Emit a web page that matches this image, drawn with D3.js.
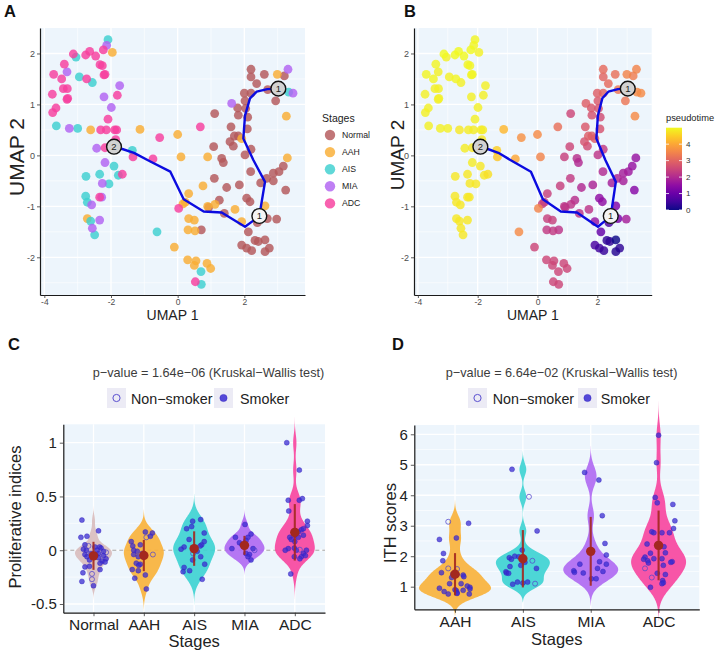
<!DOCTYPE html>
<html><head><meta charset="utf-8">
<script src="https://cdn.jsdelivr.net/npm/d3@7/dist/d3.min.js"></script>
<style>
html,body{margin:0;padding:0;background:#fff;}
svg text{font-family:'Liberation Sans',Arial,Helvetica,sans-serif;}
</style></head>
<body><svg id="fig" width="720" height="658"></svg>
<script>
// ---------------- DATA ----------------
const stages = ["Normal","AAH","AIS","MIA","ADC"];
const stageColors = ["#B3585A","#F9AD33","#3DCFD0","#B163F1","#F63E9E"];

// UMAP points per stage: [umap1, umap2, pseudotime]
const umapNormal = [[0.71,-1.46,2.2],[0.93,-1.02,2.2],[1.25,-0.88,2.1],[1.40,-1.14,2.2],[1.47,-0.63,2.0],[1.10,-0.45,2.3],[1.85,-0.58,1.9],[2.07,-0.84,1.5],[2.17,-0.91,1.5],[2.39,-1.32,0.6],[2.69,-1.24,1.2],[2.97,-1.25,1.8],[2.12,-1.50,0.9],[1.92,-1.76,0.6],[2.07,-1.82,0.5],[2.22,-1.87,0.4],[2.32,-1.67,0.3],[2.42,-1.69,0.3],[2.62,-1.66,0.0],[2.75,-1.82,0.3],[2.62,-1.89,0.2],[2.49,-0.54,1.8],[2.87,-0.50,1.8],[3.24,-0.68,1.4],[2.19,-0.32,2.0],[3.17,-0.21,1.6],[3.04,-0.32,1.7],[2.87,-0.35,1.8],[2.67,-0.45,1.9],[1.08,0.17,2.5],[1.32,-0.06,2.1],[1.37,-0.14,2.0],[2.02,0.01,2.2],[2.20,0.12,2.3],[1.67,0.18,2.6],[1.57,0.27,2.7],[1.70,0.38,2.9],[1.82,0.38,2.9],[1.60,0.56,2.8],[2.09,0.52,2.7],[1.11,0.82,2.5],[1.82,0.79,2.7],[2.10,0.75,2.6],[1.80,0.93,2.8],[2.04,0.92,2.7],[2.02,1.07,2.8],[2.94,1.07,3.3],[2.00,1.22,2.9],[2.20,1.22,3.0],[2.37,1.41,3.1],[2.70,1.29,3.3],[2.20,1.54,3.0],[2.20,1.69,3.1],[2.60,1.59,3.2],[3.20,1.56,3.4]];
const umapAAH = [[-1.96,2.02,4.9],[-2.61,0.50,4.8],[-2.71,-1.24,4.8],[-1.13,0.51,4.2],[0.00,0.41,3.6],[0.10,-0.03,3.5],[0.33,-0.75,2.4],[0.16,-0.95,2.4],[0.23,-0.92,2.4],[0.33,-1.24,2.4],[0.50,-1.27,2.4],[0.31,-1.46,2.3],[0.52,-1.48,2.3],[-0.10,-1.80,2.5],[0.30,-2.05,2.5],[0.55,-2.07,2.5],[0.50,-2.16,2.5],[0.88,-2.12,2.5],[0.99,-2.22,2.5],[0.76,-0.60,2.4],[0.90,-1.00,2.2],[1.12,-0.96,2.2],[1.72,-1.06,2.2],[1.92,-1.30,1.6],[2.62,-0.99,1.3],[3.29,-0.05,1.6],[1.92,0.33,2.9],[0.90,-0.03,2.4],[2.99,1.59,3.5],[3.26,0.77,3.6]];
const umapAIS = [[-2.09,2.27,4.95],[-3.05,1.93,4.9],[-2.95,1.54,4.9],[-2.56,1.43,4.9],[-3.64,0.58,4.9],[-3.00,0.53,4.9],[-1.91,-0.21,4.8],[-2.75,-0.41,4.8],[-2.34,-0.37,4.8],[-1.78,-0.39,4.8],[-2.06,-0.56,4.8],[-2.76,-0.80,4.8],[-2.71,-0.92,4.8],[-2.61,-1.29,4.8],[-2.49,-1.56,4.8],[-1.36,0.10,4.5],[-0.62,-1.50,3.6],[0.70,-2.28,2.5],[0.71,-2.53,2.5],[3.33,1.24,3.6]];
const umapMIA = [[-2.13,2.16,4.95],[-3.32,1.64,4.9],[-1.74,1.37,4.9],[-2.21,1.15,4.9],[-1.99,0.94,4.9],[-3.25,0.53,4.9],[-2.43,0.14,4.85],[-2.18,-0.14,4.85],[-2.26,-0.55,4.8],[-2.28,-0.82,4.8],[-2.58,-0.97,4.8],[-2.34,-1.27,4.8],[-2.56,-1.43,4.8],[1.62,1.02,2.9],[3.31,1.69,3.5],[3.46,1.22,3.6]];
const umapADC = [[-2.23,2.07,5.0],[-3.13,1.99,5.0],[-2.64,2.04,5.0],[-2.76,1.97,5.0],[-2.46,1.95,5.0],[-3.40,1.79,4.95],[-2.33,1.78,4.95],[-2.26,1.76,4.95],[-3.72,1.59,4.95],[-3.48,1.50,4.95],[-2.73,1.50,4.95],[-2.21,1.58,4.95],[-2.18,1.59,4.95],[-3.43,1.31,4.9],[-3.31,1.31,4.9],[-3.32,1.10,4.9],[-3.30,1.12,4.9],[-3.76,1.20,4.9],[-3.65,0.93,4.9],[-3.75,0.84,4.9],[-1.81,1.18,4.9],[-2.09,0.71,4.9],[-2.31,0.50,4.85],[-2.14,0.50,4.85],[-1.89,0.50,4.85],[-1.83,0.50,4.85],[-1.86,0.31,4.8],[-2.18,0.15,4.8],[-1.66,-0.37,4.7],[-2.34,-0.82,4.8],[-0.54,0.35,3.7],[0.68,0.56,3.2],[-1.34,-0.03,4.4],[-0.74,-0.07,4.0],[0.03,-1.04,3.5],[0.53,-2.48,2.5]];

// trajectory (principal graph) and its nodes
const trajX = [-1.91,-1.73,-1.31,-0.82,-0.22,0.18,0.78,1.32,2.02,2.27,2.45,2.62,2.27,1.97,2.02,2.17,2.37,2.69,3.02];
const trajY = [0.17,0.14,0.05,-0.12,-0.32,-0.86,-1.10,-1.12,-1.40,-1.28,-1.19,-0.52,-0.09,0.33,0.78,1.12,1.25,1.30,1.31];
const nodeX = [3.02,2.45,-1.91];
const nodeY = [1.31,-1.19,0.17];
const nodeLabel = ["1","1","2"];

const umapXTicks = [-4,-2,0,2];
const umapYTicks = [-2,-1,0,1,2];
const pseudoTicks = [0,1,2,3,4];

// Panel C: proliferative indices per stage: [value, jitter offset, smoker(1)/non-smoker(0)]
const propNormal = [[0.28,-0.23,1],[0.12,-0.25,1],[0.13,-0.13,1],[0.18,0.10,1],[0.05,-0.17,1],[0.04,-0.10,0],[0.03,0.03,1],[0.03,0.12,1],[0.02,0.15,1],[0.01,-0.20,1],[0.00,-0.14,1],[0.00,0.07,1],[-0.01,0.20,1],[-0.02,0.25,0],[-0.03,-0.05,1],[-0.03,0.10,1],[-0.04,-0.17,1],[-0.05,0.05,1],[-0.05,0.20,1],[-0.06,-0.13,1],[-0.07,0.10,1],[-0.08,0.25,1],[-0.09,-0.08,1],[-0.10,0.17,1],[-0.11,0.23,1],[-0.12,0.13,1],[-0.155,-0.17,1],[-0.15,-0.08,1],[-0.18,0.13,1],[-0.21,-0.21,1],[-0.22,-0.03,0],[-0.27,-0.03,0],[-0.29,-0.23,1],[-0.33,0.00,1]];
const propAAH = [[0.08,-0.25,1],[0.04,-0.22,1],[0.17,0.03,1],[0.16,0.17,1],[0.12,0.05,0],[0.13,0.13,1],[0.05,-0.07,1],[0.00,-0.20,1],[-0.01,-0.13,1],[-0.03,-0.03,1],[-0.04,-0.20,1],[-0.06,-0.11,1],[-0.04,0.18,0],[-0.12,-0.15,1],[-0.13,-0.07,1],[-0.14,-0.10,1],[-0.18,-0.23,1],[-0.19,-0.11,1],[-0.23,0.03,1],[-0.26,-0.18,1],[-0.36,0.05,1]];
const propAIS = [[0.285,0.13,1],[0.27,-0.03,1],[0.16,0.20,1],[0.10,-0.10,1],[0.05,0.15,1],[0.04,0.12,1],[0.03,-0.20,1],[0.01,-0.26,1],[0.20,-0.15,1],[0.22,-0.05,1],[-0.01,0.06,1],[-0.03,-0.02,0],[-0.06,0.13,1],[-0.09,-0.03,1],[-0.13,0.21,1],[-0.16,-0.20,1],[-0.19,-0.09,1],[-0.20,-0.22,1],[-0.27,0.16,1],[0.08,0.20,1]];
const propMIA = [[0.24,0.01,1],[0.15,0.13,1],[0.12,-0.18,1],[0.07,-0.10,1],[0.12,0.07,1],[0.09,0.03,1],[0.05,-0.05,1],[0.03,-0.01,1],[0.015,0.17,1],[-0.03,0.03,1],[-0.04,0.10,1],[-0.06,0.07,1],[-0.09,0.13,1],[0.015,-0.25,1],[0.00,0.20,0]];
const propADC = [[1.00,-0.16,1],[0.745,0.09,1],[0.465,-0.13,1],[0.465,0.09,1],[0.48,0.15,1],[0.27,0.25,1],[0.23,0.25,1],[0.365,-0.12,1],[0.19,0.13,1],[0.20,0.17,1],[0.17,0.07,1],[0.14,0.00,1],[0.12,-0.10,1],[0.12,0.07,1],[0.14,0.17,1],[0.015,-0.13,1],[0.00,-0.19,1],[0.02,-0.01,1],[0.00,0.03,1],[0.005,0.10,0],[-0.03,0.17,1],[0.00,0.23,1],[-0.06,0.13,1],[-0.05,0.21,1],[-0.06,-0.01,1],[-0.08,0.10,1],[-0.22,-0.08,1],[0.08,0.00,1],[0.10,-0.07,1]];
const propYTicks = [-0.5,0,0.5,1];

// Panel D: ITH scores per stage
const ithAAH = [[3.13,-0.10,0],[3.08,0.20,1],[2.60,0.02,1],[2.55,-0.23,1],[2.09,-0.17,1],[1.85,-0.18,1],[1.60,-0.10,0],[1.58,0.03,0],[1.46,-0.20,1],[1.42,-0.03,1],[1.40,0.03,1],[1.38,0.12,1],[1.33,0.13,1],[1.30,-0.05,1],[1.10,0.09,1],[1.02,0.18,1],[0.98,0.22,1],[0.95,-0.23,1],[0.92,0.22,1],[0.90,0.00,1],[0.87,0.02,1],[0.84,-0.16,1],[0.80,0.03,1],[0.78,0.03,1],[0.76,-0.10,1],[0.76,0.21,1],[1.10,-0.08,1],[0.88,0.12,1]];
const ithAIS = [[4.85,-0.16,1],[3.95,0.09,0],[2.83,0.21,1],[2.20,-0.01,1],[2.00,-0.12,1],[1.98,-0.06,1],[1.95,-0.20,1],[1.90,-0.17,1],[1.85,0.14,0],[1.70,-0.03,1],[1.66,-0.19,1],[1.60,0.20,1],[1.49,-0.25,1],[1.45,-0.24,1],[1.44,-0.21,1],[1.15,-0.08,1],[1.15,0.07,1],[1.10,0.18,0],[1.08,-0.15,1],[1.12,0.00,1],[1.80,0.03,1]];
const ithMIA = [[4.75,-0.09,1],[4.50,0.12,1],[3.33,0.17,1],[2.42,0.21,1],[2.04,0.23,1],[1.82,0.13,1],[1.74,-0.16,1],[1.74,0.23,1],[1.52,-0.25,1],[1.47,-0.24,1],[1.45,-0.11,1],[1.50,0.18,1],[1.26,0.01,1],[1.26,0.08,1],[1.60,0.10,1]];
const ithADC = [[5.97,0.00,1],[5.07,-0.03,1],[3.93,-0.05,1],[3.75,-0.02,1],[3.70,0.21,1],[3.16,0.24,1],[2.91,0.22,1],[2.80,-0.10,1],[2.77,-0.07,1],[2.77,0.05,1],[2.77,0.16,1],[2.40,-0.17,1],[2.31,0.08,1],[2.11,0.10,1],[2.10,-0.12,1],[1.97,-0.20,1],[1.90,-0.22,1],[1.92,-0.07,1],[1.92,0.05,1],[1.85,-0.16,1],[1.78,-0.15,1],[1.82,0.20,1],[1.80,0.18,1],[1.70,0.07,1],[1.44,-0.02,1],[1.40,0.10,1],[1.30,-0.10,0],[1.20,0.06,1],[1.13,0.07,1],[1.10,0.05,1],[0.98,-0.12,1],[1.60,-0.20,0]];
const ithYTicks = [1,2,3,4,5,6];

const titleC = "p\u2212value = 1.64e\u221206 (Kruskal\u2212Wallis test)";
const titleD = "p\u2212value = 6.64e\u221202 (Kruskal\u2212Wallis test)";
const smokeLabels = ["Non\u2212smoker","Smoker"];

// ---------------- DRAWING ----------------
const svg = d3.select("#fig");
const PANEL_BG = "#EDF5FC";
const PT_COL = "#3A2CD2";
const MEAN_COL = "#A3281F";

function grid(g, x, y, box, xMaj, xMin, yMaj, yMin) {
  g.append("rect").attr("x", box.l).attr("y", box.t).attr("width", box.r - box.l)
    .attr("height", box.b - box.t).attr("fill", PANEL_BG);
  const add = (vals, vertical, w) => g.append("g").selectAll("line").data(vals).join("line")
    .attr("x1", d => vertical ? x(d) : box.l).attr("x2", d => vertical ? x(d) : box.r)
    .attr("y1", d => vertical ? box.t : y(d)).attr("y2", d => vertical ? box.b : y(d))
    .attr("stroke", "#fff").attr("stroke-width", w);
  add(xMin, true, 0.6); add(yMin, false, 0.6); add(xMaj, true, 1.3); add(yMaj, false, 1.3);
}

function styleAxis(sel, size, color) {
  sel.select(".domain").attr("stroke", "#1a1a1a").attr("stroke-width", 1.2);
  sel.selectAll(".tick line").attr("stroke", "#333").attr("stroke-width", 0.8);
  sel.selectAll(".tick text").attr("font-size", size).attr("fill", color);
}
const hyph = d => String(d).replace("\u2212", "-");

function panelLetter(t, x, y) {
  svg.append("text").attr("x", x).attr("y", y).attr("font-size", 16.5).attr("font-weight", "bold")
    .attr("fill", "#111").text(t);
}

const umapGroups = [umapNormal, umapAAH, umapAIS, umapMIA, umapADC];
const umapAll = [];
umapGroups.forEach((arr, si) => arr.forEach(d => umapAll.push({x: d[0], y: d[1], pt: d[2], s: si})));

const ptMax = d3.max(umapAll, d => d.pt);
const ptColor = d3.scaleSequential(d3.interpolatePlasma).domain([0, ptMax]);

function umapPanel(box, colorOf, yTitle) {
  const g = svg.append("g");
  const x = d3.scaleLinear().domain([-4.13, 3.82]).range([box.l, box.r]);
  const y = d3.scaleLinear().domain([-2.74, 2.5]).range([box.b, box.t]);
  grid(g, x, y, box, umapXTicks, [-3,-1,1,3], umapYTicks, [-2.5,-1.5,-0.5,0.5,1.5]);
  g.append("g").selectAll("circle").data(umapAll).join("circle")
    .attr("cx", d => x(d.x)).attr("cy", d => y(d.y)).attr("r", 4.4)
    .attr("fill", colorOf).attr("fill-opacity", 0.82);
  const line = d3.line().x(i => x(trajX[i])).y(i => y(trajY[i]));
  g.append("path").attr("d", line(d3.range(trajX.length))).attr("fill", "none")
    .attr("stroke", "#0B0BE0").attr("stroke-width", 2.4).attr("stroke-linejoin", "round");
  const nodeFill = ["#D2D2D2", "#F4F4F4", "#D2D2D2"];
  const ng = g.append("g").selectAll("g").data(d3.range(nodeX.length)).join("g")
    .attr("transform", i => `translate(${x(nodeX[i])},${y(nodeY[i])})`);
  ng.append("circle").attr("r", 7.4).attr("fill", (i) => nodeFill[i]).attr("stroke", "#111").attr("stroke-width", 1.4);
  ng.append("text").attr("text-anchor", "middle").attr("dy", "0.36em").attr("font-size", 9.5)
    .attr("fill", "#222").text(i => nodeLabel[i]);
  const ax = g.append("g").attr("transform", `translate(0,${box.b})`)
    .call(d3.axisBottom(x).tickValues(umapXTicks).tickSize(3).tickSizeOuter(0).tickPadding(1).tickFormat(hyph));
  styleAxis(ax, 8.5, "#4d4d4d");
  const ay = g.append("g").attr("transform", `translate(${box.l},0)`)
    .call(d3.axisLeft(y).tickValues(umapYTicks).tickSize(3).tickSizeOuter(0).tickPadding(2).tickFormat(hyph));
  styleAxis(ay, 9, "#4d4d4d");
  g.append("text").attr("x", (box.l + box.r) / 2).attr("y", 320).attr("text-anchor", "middle")
    .attr("font-size", 14).attr("fill", "#222").text("UMAP 1");
  g.append("text").attr("transform", `translate(${yTitle.x},${yTitle.y}) rotate(-90)`)
    .attr("text-anchor", "middle").attr("font-size", yTitle.size).attr("fill", "#222").text("UMAP 2");
  return {x, y};
}

// Panel A
panelLetter("A", 4, 17);
umapPanel({l: 40, r: 305, t: 28, b: 295}, d => stageColors[d.s], {x: 24, y: 157, size: 21});
{
  const lg = svg.append("g");
  lg.append("text").attr("x", 322).attr("y", 122).attr("font-size", 10.5).attr("fill", "#222").text("Stages");
  const it = lg.selectAll("g").data(stages).join("g").attr("transform", (d, i) => `translate(330,${135 + i * 17.1})`);
  it.append("circle").attr("r", 5.2).attr("fill", (d, i) => stageColors[i]).attr("fill-opacity", 0.82);
  it.append("text").attr("x", 12).attr("dy", "0.35em").attr("font-size", 8.7).attr("fill", "#222").text(d => d);
}

// Panel B
panelLetter("B", 404, 17);
umapPanel({l: 414, r: 651.7, t: 28, b: 295}, d => ptColor(d.pt), {x: 404, y: 155, size: 19});
{
  const lg = svg.append("g");
  lg.append("text").attr("x", 666).attr("y", 121).attr("font-size", 9.3).attr("fill", "#222").text("pseudotime");
  const defs = svg.append("defs");
  const grad = defs.append("linearGradient").attr("id", "ptgrad").attr("x1", 0).attr("y1", 1).attr("x2", 0).attr("y2", 0);
  d3.range(0, 1.0001, 0.1).forEach(t => grad.append("stop").attr("offset", t).attr("stop-color", d3.interpolatePlasma(t)));
  const ly = d3.scaleLinear().domain([0, ptMax]).range([210, 127.7]);
  lg.append("rect").attr("x", 666).attr("y", 127.7).attr("width", 16).attr("height", 210 - 127.7).attr("fill", "url(#ptgrad)");
  const tk = lg.selectAll("g.t").data(pseudoTicks).join("g").attr("transform", d => `translate(0,${ly(d)})`);
  tk.append("line").attr("x1", 666).attr("x2", 669).attr("stroke", "#fff").attr("stroke-width", 0.8);
  tk.append("line").attr("x1", 679).attr("x2", 682).attr("stroke", "#fff").attr("stroke-width", 0.8);
  tk.append("text").attr("x", 686).attr("dy", "0.35em").attr("font-size", 8).attr("fill", "#333").text(d => d);
}

// ---- violin panels ----
function kde(vals) {
  const n = vals.length;
  const s = vals.slice().sort(d3.ascending);
  const sd = d3.deviation(s);
  const iqr = d3.quantile(s, 0.75) - d3.quantile(s, 0.25);
  const bw = 0.9 * Math.min(sd, iqr / 1.34) * Math.pow(n, -0.2);
  const lo = s[0] - 3 * bw, hi = s[n - 1] + 3 * bw;
  return d3.range(0, 201).map(i => {
    const p = lo + (hi - lo) * i / 200;
    return [p, d3.mean(s, v => Math.exp(-0.5 * ((p - v) / bw) ** 2)) / (bw * Math.sqrt(2 * Math.PI))];
  });
}

function violinPanel(cfg) {
  const g = svg.append("g");
  const box = cfg.box, n = cfg.groups.length;
  const x = d3.scaleLinear().domain([0.4, n + 0.6]).range([box.l, box.r]);
  const y = d3.scaleLinear().domain(cfg.yDomain).range([box.b, box.t]);
  grid(g, x, y, box, d3.range(1, n + 1), [], cfg.yTicks, cfg.yMinor);
  if (cfg.zeroLine) g.append("line").attr("x1", box.l).attr("x2", box.r).attr("y1", y(0)).attr("y2", y(0))
    .attr("stroke", "#9a9a9a").attr("stroke-width", 0.9).attr("stroke-dasharray", "4,3");
  cfg.data.forEach((arr, i) => {
    const dens = kde(arr.map(d => d[0]));
    const maxD = d3.max(dens, d => d[1]);
    const hw = cfg.halfW[i], cx = x(i + 1);
    const area = d3.area().y(d => y(d[0])).x0(d => cx - d[1] / maxD * hw).x1(d => cx + d[1] / maxD * hw).curve(d3.curveBasis);
    g.append("path").attr("d", area(dens)).attr("fill", cfg.fills[i]).attr("fill-opacity", 0.92);
  });
  cfg.data.forEach((arr, i) => {
    g.append("g").selectAll("circle").data(arr).join("circle")
      .attr("cx", d => x(i + 1 + d[1])).attr("cy", d => y(d[0])).attr("r", 2.5)
      .attr("fill", d => d[2] ? PT_COL : "none").attr("fill-opacity", 0.75)
      .attr("stroke", d => d[2] ? "#3322c0" : "#5548cc").attr("stroke-width", d => d[2] ? 0.5 : 0.9)
      .attr("stroke-opacity", 0.85);
  });
  cfg.data.forEach((arr, i) => {
    const vals = arr.map(d => d[0]);
    const m = d3.mean(vals), s = d3.deviation(vals), cx = x(i + 1);
    g.append("line").attr("x1", cx).attr("x2", cx).attr("y1", y(m - s)).attr("y2", y(m + s))
      .attr("stroke", MEAN_COL).attr("stroke-width", 2.1).attr("stroke-opacity", 0.9);
    g.append("circle").attr("cx", cx).attr("cy", y(m)).attr("r", 4.7).attr("fill", MEAN_COL);
  });
  const ax = g.append("g").attr("transform", `translate(0,${box.b})`)
    .call(d3.axisBottom(x).tickValues(d3.range(1, n + 1)).tickSize(3.5).tickSizeOuter(0).tickPadding(3)
      .tickFormat(i => cfg.groups[i - 1]));
  styleAxis(ax, 15.5, "#222");
  ax.selectAll(".tick text").attr("dy", "0.71em");
  const ay = g.append("g").attr("transform", `translate(${box.l},0)`)
    .call(d3.axisLeft(y).tickValues(cfg.yTicks).tickSize(3.5).tickSizeOuter(0).tickPadding(3).tickFormat(hyph));
  styleAxis(ay, 15, "#222");
  g.append("text").attr("x", (box.l + box.r) / 2).attr("y", cfg.xTitleY).attr("text-anchor", "middle")
    .attr("font-size", 16.5).attr("fill", "#222").text("Stages");
  g.append("text").attr("transform", `translate(${cfg.yTitle.x},${cfg.yTitle.y}) rotate(-90)`)
    .attr("text-anchor", "middle").attr("font-size", 16.5).attr("fill", "#222").text(cfg.yTitle.text);
  g.append("text").attr("x", cfg.titleX).attr("y", 377).attr("text-anchor", "middle")
    .attr("font-size", 12.7).attr("fill", "#3c3c3c").text(cfg.title);
  // legend
  const L = cfg.legend;
  [0, 1].forEach(k => {
    g.append("rect").attr("x", L.keyX[k]).attr("y", 388).attr("width", 19).attr("height", 20).attr("fill", "#ECEBF5");
    g.append("circle").attr("cx", L.keyX[k] + 9.5).attr("cy", 398).attr("r", 3.6)
      .attr("fill", k ? PT_COL : "none").attr("fill-opacity", 0.85)
      .attr("stroke", k ? "#3322c0" : "#5a4fd0").attr("stroke-width", k ? 0.5 : 1);
    g.append("text").attr("x", L.textX[k]).attr("y", 403.5).attr("font-size", 14.3).attr("fill", "#222").text(smokeLabels[k]);
  });
}

panelLetter("C", 8, 350);
violinPanel({
  box: {l: 63.3, r: 325, t: 424.3, b: 612.7}, groups: stages,
  data: [propNormal, propAAH, propAIS, propMIA, propADC],
  fills: ["#D9BDBE", "#F8B23C", "#3FD3D3", "#B06AF2", "#F7479F"],
  halfW: [18.5, 20, 21, 20, 20],
  yDomain: [-0.581, 1.171], yTicks: propYTicks, yMinor: [-0.25, 0.25, 0.75], zeroLine: true,
  xTitleY: 647, yTitle: {x: 21, y: 517, text: "Proliferative indices"},
  title: titleC, titleX: 208.5, legend: {keyX: [107, 214], textX: [131, 240]}
});

panelLetter("D", 392, 350);
violinPanel({
  box: {l: 414.3, r: 699.3, t: 425, b: 609.3}, groups: stages.slice(1),
  data: [ithAAH, ithAIS, ithMIA, ithADC],
  fills: ["#F8B23C", "#3FD3D3", "#B06AF2", "#F7479F"],
  halfW: [36, 27, 27.5, 27.5],
  yDomain: [0.258, 6.305], yTicks: ithYTicks, yMinor: [1.5, 2.5, 3.5, 4.5, 5.5], zeroLine: false,
  xTitleY: 645, yTitle: {x: 396, y: 523, text: "ITH scores"},
  title: titleD, titleX: 561.6, legend: {keyX: [468, 578], textX: [492.7, 600.7]}
});
</script></body></html>
